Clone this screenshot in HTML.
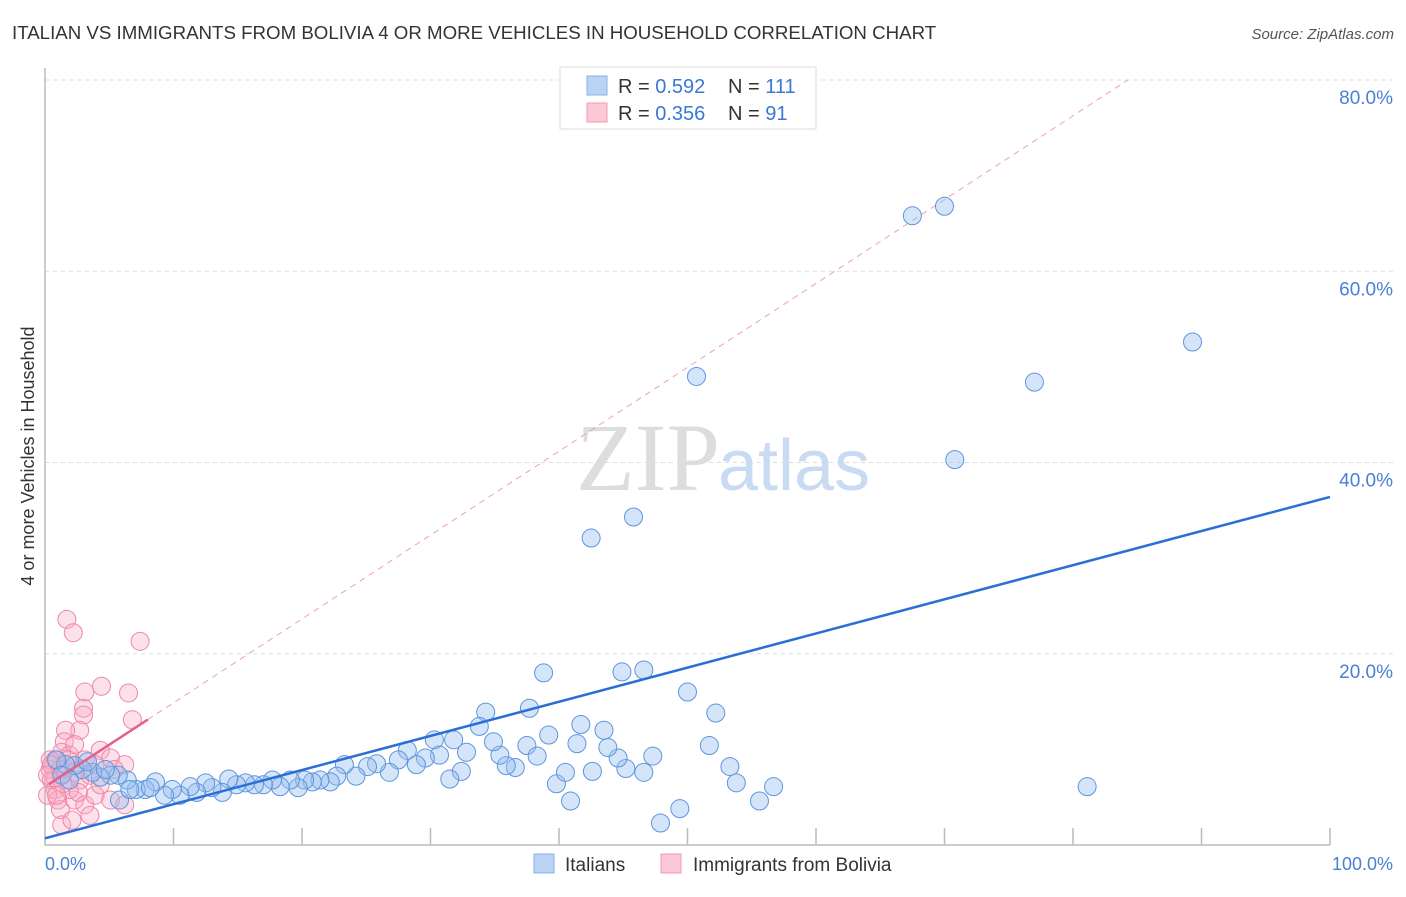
<!DOCTYPE html>
<html><head><meta charset="utf-8"><style>
body{margin:0;background:#fff;font-family:"Liberation Sans",sans-serif}
svg text{font-family:"Liberation Sans",sans-serif}
</style></head><body>
<svg width="1406" height="892" xmlns="http://www.w3.org/2000/svg">
<text x="12" y="39" font-size="18.7" fill="#333">ITALIAN VS IMMIGRANTS FROM BOLIVIA 4 OR MORE VEHICLES IN HOUSEHOLD CORRELATION CHART</text>
<text x="1394" y="39" font-size="15" fill="#555" text-anchor="end" font-style="italic">Source: ZipAtlas.com</text>
<g id="grid"></g>
<text x="720" y="490" font-size="96" fill="#ddd" text-anchor="end" font-family="Liberation Serif" style="font-family:'Liberation Serif',serif">ZIP</text>
<text x="718" y="490" font-size="72" fill="#c9dbf2">atlas</text>
<g id="marks"></g>
<text transform="translate(34,456) rotate(-90)" font-size="18" fill="#333" text-anchor="middle">4 or more Vehicles in Household</text>
<text x="45" y="870" font-size="18" fill="#4a7fd4">0.0%</text>
<text x="1393" y="870" font-size="18" fill="#4a7fd4" text-anchor="end">100.0%</text>
<g>
<rect x="560" y="67" width="256" height="62" fill="#fff" stroke="#ddd"/>
<rect x="587" y="76" width="20" height="19" fill="#b9d3f5" stroke="#8ab2e6"/>
<rect x="587" y="103" width="20" height="19" fill="#fbc8d6" stroke="#f29ab4"/>
<text x="618" y="93" font-size="20" fill="#333">R = <tspan fill="#3a78d6">0.592</tspan><tspan x="728">N = </tspan><tspan fill="#3a78d6">111</tspan></text>
<text x="618" y="120" font-size="20" fill="#333">R = <tspan fill="#3a78d6">0.356</tspan><tspan x="728">N = </tspan><tspan fill="#3a78d6"> 91</tspan></text>
</g>
<g>
<rect x="534" y="854" width="20" height="19" fill="#b9d3f5" stroke="#8ab2e6"/>
<text x="565" y="871" font-size="19" fill="#333">Italians</text>
<rect x="661" y="854" width="20" height="19" fill="#fbc8d6" stroke="#f29ab4"/>
<text x="693" y="871" font-size="19" fill="#333">Immigrants from Bolivia</text>
</g>
</svg>
<script>
const yTicks=[20,40,60,80];
const yTickLabels=["20.0%","40.0%","60.0%","80.0%"];
const xTicks=[10,20,30,40,50,60,70,80,90,100];
const italiansX=[42.5,45.8,50.7,67.5,70.0,89.3,77.0,70.8,81.1,38.8,44.9,46.6,50.0,52.2,51.7,53.3,53.8,55.6,56.7,49.4,47.9,47.3,46.6,45.2,44.6,43.8,43.5,41.7,41.4,42.6,40.9,39.8,40.5,39.2,37.7,37.5,38.3,36.6,35.9,35.4,34.9,34.3,33.8,32.8,32.4,31.5,31.8,30.3,30.7,29.6,28.9,28.2,27.5,26.8,25.8,25.1,24.2,23.3,22.7,22.2,21.4,20.8,20.2,19.7,19.1,18.3,17.7,17.0,16.3,15.6,14.9,14.3,13.8,13.0,12.5,11.8,11.3,10.5,9.9,9.3,8.6,7.8,7.1,6.4,5.7,5.1,4.3,3.7,2.9,2.3,1.6,0.9,5.8,6.6,1.3,1.9,3.3,4.7,8.2];
const italiansY=[32.1,34.3,49.0,65.8,66.8,52.6,48.4,40.3,6.1,18.0,18.1,18.3,16.0,13.8,10.4,8.2,6.5,4.6,6.1,3.8,2.3,9.3,7.6,8.0,9.1,10.2,12.0,12.6,10.6,7.7,4.6,6.4,7.6,11.5,14.3,10.4,9.3,8.1,8.3,9.4,10.8,13.9,12.4,9.7,7.7,6.9,11.0,11.0,9.4,9.1,8.4,9.9,8.9,7.6,8.5,8.2,7.2,8.4,7.2,6.6,6.8,6.6,6.8,6.0,6.8,6.1,6.8,6.3,6.3,6.5,6.3,6.9,5.5,6.0,6.5,5.5,6.1,5.2,5.8,5.2,6.6,5.8,5.8,6.8,7.3,7.3,7.1,7.6,7.9,8.3,8.4,8.9,4.7,5.8,7.3,6.8,8.7,7.9,6.0];
const boliviaX=[1.7,2.2,7.4,3.1,4.4,6.5,3.0,3.0,2.7,1.6,6.8,1.5,1.3,1.9,4.3,5.1,6.2,2.3,0.8,0.4,0.5,0.8,1.0,1.2,1.3,2.3,3.1,3.5,2.1,3.9,5.1,6.2,0.2,0.4,1.6,2.7,3.5,4.3,1.9,1.2,0.8,0.5,2.3,1.8,3.1,5.4,3.9,0.2,1.4,0.9,2.6];
const boliviaY=[23.6,22.2,21.3,16.0,16.6,15.9,14.3,13.6,12.0,12.0,13.1,10.8,9.7,9.4,9.9,9.1,8.4,10.5,8.9,7.9,6.8,5.8,4.7,3.7,2.1,4.7,4.2,3.1,2.6,5.2,4.7,4.2,5.2,8.9,7.9,6.8,7.3,6.3,5.8,7.9,7.0,8.4,7.6,8.9,8.9,7.9,8.4,7.3,6.4,5.2,5.5];
const blueTrend=[0.7,36.4];
const pinkTrend=[6.1,0.877];
const X0=45,X1=1330,Y0=845,Y80=80;
const sx=v=>X0+(X1-X0)*v/100;
const sy=v=>Y0-(Y0-Y80)*v/80;
const NS="http://www.w3.org/2000/svg";
const grid=document.getElementById('grid');
const marks=document.getElementById('marks');
function mk(tag,attrs,parent){const e=document.createElementNS(NS,tag);for(const k in attrs)e.setAttribute(k,attrs[k]);parent.appendChild(e);return e;}
yTicks.forEach((t,i)=>{
  const l=mk('line',{x1:X0,x2:1394,y1:sy(t),y2:sy(t),stroke:'#ddd','stroke-dasharray':'4,4'},grid);
  
  
  const tx=mk('text',{x:1393,y:sy(t)+24,'font-size':19,fill:'#4a7fd4','text-anchor':'end'},grid);
  tx.textContent=yTickLabels[i];
  
  
});
const ax=mk('path',{d:`M${X0},68 L${X0},${Y0} L${X1},${Y0}`,stroke:'#bbb',fill:'none','stroke-width':1.5},grid);


xTicks.forEach(t=>{
  const l=mk('line',{x1:sx(t),x2:sx(t),y1:Y0,y2:Y0-17,stroke:'#bbb','stroke-width':1.5},grid);
  
  
});
const xEnd=(80-pinkTrend[0])/pinkTrend[1];
const pd=mk('line',{x1:sx(8),y1:sy(pinkTrend[0]+pinkTrend[1]*8),x2:sx(xEnd),y2:sy(80),stroke:'#eaa0b8','stroke-dasharray':'6,5','stroke-width':1},marks);


boliviaX.forEach((x,i)=>{
  const c=mk('circle',{cx:sx(x),cy:sy(boliviaY[i]),r:9,fill:'rgba(248,170,195,0.35)',stroke:'#ee88a8','stroke-width':1},marks);
  
  
});
italiansX.forEach((x,i)=>{
  const c=mk('circle',{cx:sx(x),cy:sy(italiansY[i]),r:9,fill:'rgba(150,190,240,0.4)',stroke:'#5d95dd','stroke-width':1},marks);
  
  
});
const bt=mk('line',{x1:sx(0),y1:sy(blueTrend[0]),x2:sx(100),y2:sy(blueTrend[1]),stroke:'#2a6fd6','stroke-width':2.5},marks);


const pt=mk('line',{x1:sx(0.3),y1:sy(pinkTrend[0]+pinkTrend[1]*0.3),x2:sx(8),y2:sy(pinkTrend[0]+pinkTrend[1]*8),stroke:'#e8608a','stroke-width':2.5},marks);


</script>
</body></html>
